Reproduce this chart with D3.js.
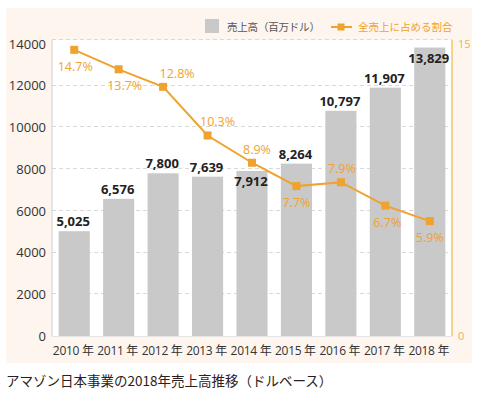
<!DOCTYPE html>
<html>
<head>
<meta charset="utf-8">
<script src="https://cdn.jsdelivr.net/npm/d3@7"></script>
<style>
  body { margin: 0; background: #fff; }
  text { font-family: "Open Sans", "Noto Sans CJK JP", sans-serif; }
</style>
</head>
<body>
<script>
// chart data
var years = ["2010", "2011", "2012", "2013", "2014", "2015", "2016", "2017", "2018"];
var sales = [5025, 6576, 7800, 7639, 7912, 8264, 10797, 11907, 13829];
var share = [14.7, 13.7, 12.8, 10.3, 8.9, 7.7, 7.9, 6.7, 5.9];
var leftTicks = [0, 2000, 4000, 6000, 8000, 10000, 12000, 14000];
var rightTicks = [0, 15];

// where the % labels go (layout only)
var shareLabelSide = ["below", "below", "above", "above", "above", "below", "above", "below", "below"];
var shareLabelDx = [1, 6, 14, 10, 5, 0, 1, 2, 0];

var width = 477;
var height = 396;
var orange = "#f0a22e";

var svg = d3.select("body")
  .append("svg")
  .attr("width", width)
  .attr("height", height);

// cream panel
svg.append("rect")
  .attr("x", 6).attr("y", 8)
  .attr("width", 466).attr("height", 355)
  .style("fill", "#fdf5ee");

var plotLeft = 52, plotRight = 452, plotTop = 44, plotBottom = 336;

svg.append("rect")
  .attr("x", plotLeft).attr("y", plotTop - 4)
  .attr("width", plotRight - plotLeft).attr("height", plotBottom - plotTop + 4)
  .style("fill", "#fff");

var x = d3.scaleBand()
  .domain(years)
  .range([plotLeft, plotRight])
  .paddingInner(0.3)
  .paddingOuter(0.15);

var y = d3.scaleLinear().domain([0, 14000]).range([plotBottom, plotTop]);
var y2 = d3.scaleLinear().domain([0, 15]).range([plotBottom, plotTop]);

// grid (top line is the frame of the plot)
var gridYs = leftTicks.filter(function(d) { return d > 0 && d < 14000; }).map(y);
gridYs.push(plotTop - 4);
svg.append("g")
  .selectAll("line")
  .data(gridYs)
  .enter()
  .append("line")
  .attr("x1", plotLeft).attr("x2", plotRight)
  .attr("y1", function(d) { return Math.round(d) - 0.5; })
  .attr("y2", function(d) { return Math.round(d) - 0.5; })
  .style("stroke", "#d9d9d9")
  .style("stroke-dasharray", "4,3");

// left axis
var yAxis = svg.append("g")
  .attr("transform", "translate(" + plotLeft + ",0)")
  .call(d3.axisLeft(y).tickValues(leftTicks).tickSize(0).tickPadding(6).tickFormat(d3.format("d")));
yAxis.select(".domain").attr("d", "M0," + (plotTop - 4) + "V" + plotBottom).style("stroke", "#cfcfcf");
yAxis.selectAll("text").style("font-size", "13px").style("fill", "#333");

// right axis
var yAxis2 = svg.append("g")
  .attr("transform", "translate(" + plotRight + ",0)")
  .call(d3.axisRight(y2).tickValues(rightTicks).tickSize(0).tickPadding(6));
yAxis2.select(".domain").attr("d", "M0," + (plotTop - 4) + "V" + plotBottom)
  .style("stroke", "#f3c66a").style("stroke-width", 1.5);
yAxis2.selectAll("text").style("font-size", "11px").style("fill", "#e9b35c");

// bars
svg.append("g")
  .selectAll("rect")
  .data(sales)
  .enter()
  .append("rect")
  .attr("x", function(d, i) { return x(years[i]); })
  .attr("y", function(d) { return y(d); })
  .attr("width", x.bandwidth())
  .attr("height", function(d) { return plotBottom - y(d); })
  .style("fill", "#c9c9c9");

// bottom line
svg.append("line")
  .attr("x1", plotLeft).attr("x2", plotRight)
  .attr("y1", plotBottom + 0.5).attr("y2", plotBottom + 0.5)
  .style("stroke", "#e4e4e4");

// x labels
svg.append("g")
  .selectAll("text")
  .data(years)
  .enter()
  .append("text")
  .attr("x", function(d) { return x(d) + x.bandwidth() / 2 - 1; })
  .attr("y", 355)
  .attr("text-anchor", "middle")
  .style("font-size", "12px")
  .style("letter-spacing", "-0.3px")
  .style("fill", "#333")
  .text(function(d) { return d + " 年"; });

// line
var cx = function(i) { return x(years[i]) + x.bandwidth() / 2; };
var line = d3.line()
  .x(function(d, i) { return cx(i); })
  .y(function(d) { return y2(d); });

svg.append("path")
  .datum(share)
  .attr("d", line)
  .style("fill", "none")
  .style("stroke", orange)
  .style("stroke-width", 2);

svg.append("g")
  .selectAll("rect")
  .data(share)
  .enter()
  .append("rect")
  .attr("x", function(d, i) { return cx(i) - 4; })
  .attr("y", function(d) { return y2(d) - 4; })
  .attr("width", 8)
  .attr("height", 8)
  .style("fill", orange);

// bar value labels: inside the bar top where the line or the legend is in the way
svg.append("g")
  .selectAll("text")
  .data(sales)
  .enter()
  .append("text")
  .attr("x", function(d, i) { return cx(i) - 1; })
  .attr("y", function(d, i) {
    var gap = y(d) - y2(share[i]);
    if ((gap > 0 && gap < 20) || y(d) - 18 < plotTop) return y(d) + 15;
    return y(d) - 5;
  })
  .attr("text-anchor", "middle")
  .style("font-size", "13px")
  .style("font-weight", "bold")
  .style("fill", "#222")
  .text(function(d) { return d3.format(",")(d); });

// share labels
svg.append("g")
  .selectAll("text")
  .data(share)
  .enter()
  .append("text")
  .attr("x", function(d, i) { return cx(i) + shareLabelDx[i]; })
  .attr("y", function(d, i) {
    return shareLabelSide[i] == "above" ? y2(d) - 9 : y2(d) + 21;
  })
  .attr("text-anchor", "middle")
  .style("font-size", "12.5px")
  .style("fill", orange)
  .text(function(d) { return d.toFixed(1) + "%"; });

// legend
var legend = svg.append("g");
legend.append("rect")
  .attr("x", 205).attr("y", 19)
  .attr("width", 14).attr("height", 14)
  .style("fill", "#c9c9c9");
legend.append("text")
  .attr("x", 227).attr("y", 31)
  .style("font-size", "10.5px")
  .style("letter-spacing", "-0.2px")
  .style("fill", "#555")
  .text("売上高（百万ドル）");
legend.append("line")
  .attr("x1", 331).attr("x2", 352)
  .attr("y1", 27).attr("y2", 27)
  .style("stroke", orange)
  .style("stroke-width", 2);
legend.append("rect")
  .attr("x", 337.5).attr("y", 23.5)
  .attr("width", 7).attr("height", 7)
  .style("fill", orange);
legend.append("text")
  .attr("x", 358).attr("y", 31)
  .style("font-size", "10.5px")
  .style("fill", orange)
  .text("全売上に占める割合");

// caption
svg.append("text")
  .attr("x", 6).attr("y", 386)
  .style("font-size", "13.5px")
  .style("fill", "#2b2020")
  .style("font-family", "'Noto Sans CJK JP', sans-serif")
  .text("アマゾン日本事業の2018年売上高推移（ドルベース）");
</script>
</body>
</html>
